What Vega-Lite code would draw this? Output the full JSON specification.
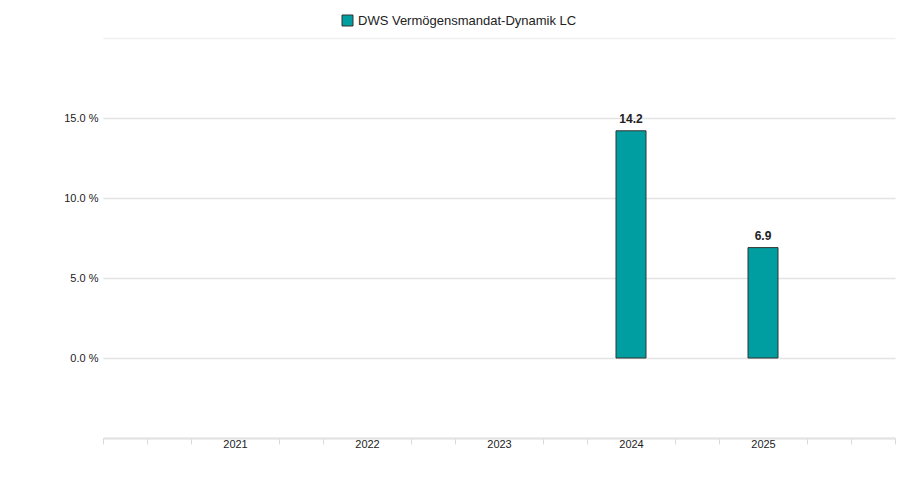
{
  "$schema": "https://vega.github.io/schema/vega-lite/v6.json",
  "width": 792,
  "height": 400,
  "autosize": "none",
  "padding": {"left": 103, "top": 38, "right": 4, "bottom": 39},
  "background": "white",
  "config": {
    "view": {"stroke": null},
    "font": "Liberation Sans"
  },
  "data": {
    "values": [
      {"year": 2024, "value": 14.2, "series": "DWS Vermögensmandat-Dynamik LC"},
      {"year": 2025, "value": 6.9, "series": "DWS Vermögensmandat-Dynamik LC"}
    ]
  },
  "layer": [
    {
      "mark": {"type": "bar", "size": 30, "stroke": "#333333", "strokeWidth": 1},
      "encoding": {
        "x": {
          "field": "year",
          "type": "quantitative",
          "scale": {"domain": [2020, 2026], "nice": false, "zero": false, "padding": 0},
          "axis": {
            "title": null,
            "values": [2020, 2020.3333, 2020.6667, 2021, 2021.3333, 2021.6667, 2022, 2022.3333, 2022.6667, 2023, 2023.3333, 2023.6667, 2024, 2024.3333, 2024.6667, 2025, 2025.3333, 2025.6667, 2026],
            "grid": false,
            "domainColor": "#e2e2e2",
            "domainWidth": 2,
            "tickColor": "#d9d9d9",
            "tickSize": 6,
            "tickWidth": 1,
            "tickOpacity": {"condition": {"test": "abs(datum.value - round(datum.value)) < 0.01 && datum.value > 2020.5 && datum.value < 2025.5", "value": 0}, "value": 1},
            "labelExpr": "abs(datum.value - round(datum.value)) < 0.01 && datum.value > 2020.5 && datum.value < 2025.5 ? format(datum.value, 'd') : ''",
            "labelPadding": -6,
            "labelFontSize": 11,
            "labelColor": "#222222",
            "labelBaseline": "top",
            "labelFlush": false
          }
        },
        "y": {
          "field": "value",
          "type": "quantitative",
          "scale": {"domain": [-5, 20], "nice": false},
          "axis": {
            "title": null,
            "values": [-5, 0, 5, 10, 15, 20],
            "domain": false,
            "ticks": false,
            "gridColor": {"condition": {"test": "datum.value > 17", "value": "#f0f0f0"}, "value": "#e3e3e3"},
            "gridWidth": 1.5,
            "labelExpr": "datum.value >= 0 && datum.value <= 15 ? format(datum.value, '.1f') + ' %' : ''",
            "labelPadding": 5,
            "labelFontSize": 11,
            "labelColor": "#222222"
          }
        },
        "color": {
          "field": "series",
          "type": "nominal",
          "scale": {"range": ["#009EA0"]},
          "legend": {
            "title": null,
            "orient": "none",
            "legendX": 238,
            "legendY": -24,
            "padding": 0,
            "symbolType": "square",
            "symbolSize": 121,
            "symbolStrokeColor": "#333333",
            "symbolStrokeWidth": 1,
            "symbolOpacity": 1,
            "labelFontSize": 13,
            "labelColor": "#222222",
            "labelOffset": 4,
            "labelLimit": 0
          }
        }
      }
    },
    {
      "mark": {"type": "text", "baseline": "bottom", "dy": -5, "fontSize": 12, "fontWeight": "bold", "color": "#222222"},
      "encoding": {
        "x": {"field": "year", "type": "quantitative"},
        "y": {"field": "value", "type": "quantitative"},
        "text": {"field": "value", "type": "quantitative", "format": ".1f"}
      }
    }
  ]
}
